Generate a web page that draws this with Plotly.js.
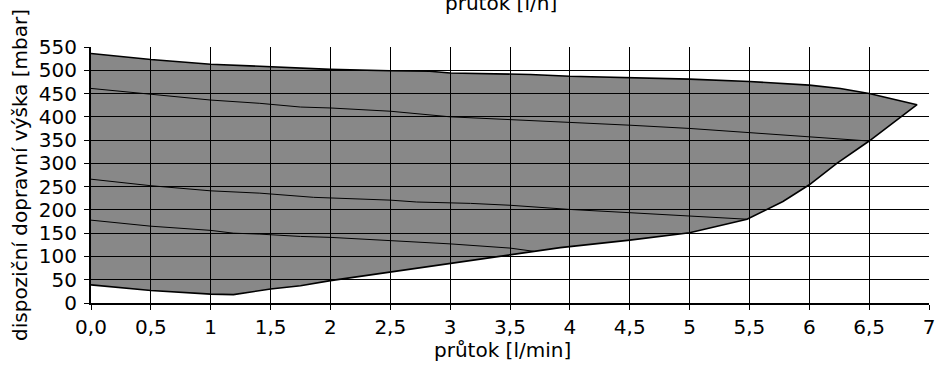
<!DOCTYPE html>
<html>
<head>
<meta charset="utf-8">
<script src="https://cdn.plot.ly/plotly-3.0.1.min.js"></script>
<style>html,body{margin:0;padding:0;background:#fff;}#chart{width:938px;height:372px;}</style>
</head>
<body>
<div id="chart"></div>
<script>
// Outer boundary of the working area: upper edge (left to right)
const topEdgeX = [0, 0.5, 1, 1.5, 2, 2.5, 2.83, 3, 3.67, 4, 4.5, 5, 5.5, 5.76, 6, 6.26, 6.5, 6.9];
const topEdgeY = [536, 523, 513, 507, 502, 499, 498, 494, 491, 487, 484, 481, 476, 471, 468, 461, 450, 426];
// lower edge (right to left, from the tip back to x = 0)
const lowEdgeX = [6.5, 6.23, 6, 5.78, 5.48, 5, 4.5, 3.92, 3.5, 3, 2.5, 2, 1.75, 1.5, 1.19, 1, 0.5, 0];
const lowEdgeY = [348, 300, 254, 218, 180, 151, 135, 119, 103.5, 84, 66, 48, 37, 30, 18, 19, 27, 39];
// interior curves
const curveAX = [0, 0.5, 1, 1.41, 1.75, 2, 2.5, 3, 3.61, 4, 4.5, 5, 5.5, 5.78, 6, 6.5];
const curveAY = [461, 448, 436, 429, 421, 419, 412, 400, 393, 388, 382, 375, 366, 361, 357, 348];
const curveBX = [0, 0.5, 1, 1.41, 1.86, 2.5, 2.72, 3.17, 3.5, 4, 4.5, 5, 5.48];
const curveBY = [266, 252, 241, 236, 227, 221, 217, 214, 210, 201, 194, 187, 180];
const curveCX = [0, 0.5, 1, 1.19, 1.41, 1.75, 2, 2.5, 3, 3.5, 3.7];
const curveCY = [178, 165, 156, 150, 148, 143, 141, 134, 127, 118, 111];

const xTickVals = [0, 0.5, 1, 1.5, 2, 2.5, 3, 3.5, 4, 4.5, 5, 5.5, 6, 6.5, 7];
const xTickText = ['0,0', '0,5', '1', '1,5', '2', '2,5', '3', '3,5', '4', '4,5', '5', '5,5', '6', '6,5', '7'];
const yTickVals = [0, 50, 100, 150, 200, 250, 300, 350, 400, 450, 500, 550];

const FONT = 'DejaVu Sans, Liberation Sans, Arial, sans-serif';
const FS = 20;

const areaX = topEdgeX.concat(lowEdgeX);
const areaY = topEdgeY.concat(lowEdgeY);

const traces = [
  {x: areaX, y: areaY, type: 'scatter', mode: 'lines', fill: 'toself',
   fillcolor: 'rgba(0,0,0,0.465)', line: {color: '#000', width: 1.6}, hoverinfo: 'skip'},
  {x: curveAX, y: curveAY, type: 'scatter', mode: 'lines', line: {color: '#000', width: 1}},
  {x: curveBX, y: curveBY, type: 'scatter', mode: 'lines', line: {color: '#000', width: 1}},
  {x: curveCX, y: curveCY, type: 'scatter', mode: 'lines', line: {color: '#000', width: 1}}
];

const layout = {
  width: 938, height: 372,
  margin: {l: 91, r: 9, t: 47, b: 69},
  paper_bgcolor: '#fff', plot_bgcolor: '#fff',
  showlegend: false,
  font: {family: FONT, size: FS, color: '#000'},
  xaxis: {
    range: [0, 7], tickvals: xTickVals, ticktext: xTickText,
    showgrid: true, gridcolor: '#000', gridwidth: 1,
    showline: true, linecolor: '#000', linewidth: 2,
    ticks: 'outside', ticklen: 5, tickcolor: '#000', tickwidth: 1,
    zeroline: false, tickfont: {family: FONT, size: FS, color: '#000'},
    automargin: false
  },
  yaxis: {
    range: [0, 550], tickvals: yTickVals,
    showgrid: true, gridcolor: '#000', gridwidth: 1,
    showline: true, linecolor: '#000', linewidth: 2,
    ticks: 'outside', ticklen: 5, tickcolor: '#000', tickwidth: 1,
    ticklabelstandoff: 3,
    zeroline: false, tickfont: {family: FONT, size: FS, color: '#000'},
    title: {text: 'dispoziční dopravní výška [mbar]', font: {family: FONT, size: FS, color: '#000'}, standoff: 6},
    automargin: false
  },
  annotations: [{
    text: 'průtok [l/h]', xref: 'paper', yref: 'paper', x: 0.489, y: 1.116,
    xanchor: 'center', yanchor: 'bottom', showarrow: false,
    font: {family: FONT, size: FS, color: '#000'}
  }, {
    text: 'průtok [l/min]', xref: 'paper', yref: 'paper', x: 0.4905, y: -0.184,
    xanchor: 'center', yanchor: 'middle', showarrow: false,
    font: {family: FONT, size: FS, color: '#000'}
  }]
};

Plotly.newPlot('chart', traces, layout, {staticPlot: true, displayModeBar: false});
</script>
</body>
</html>
